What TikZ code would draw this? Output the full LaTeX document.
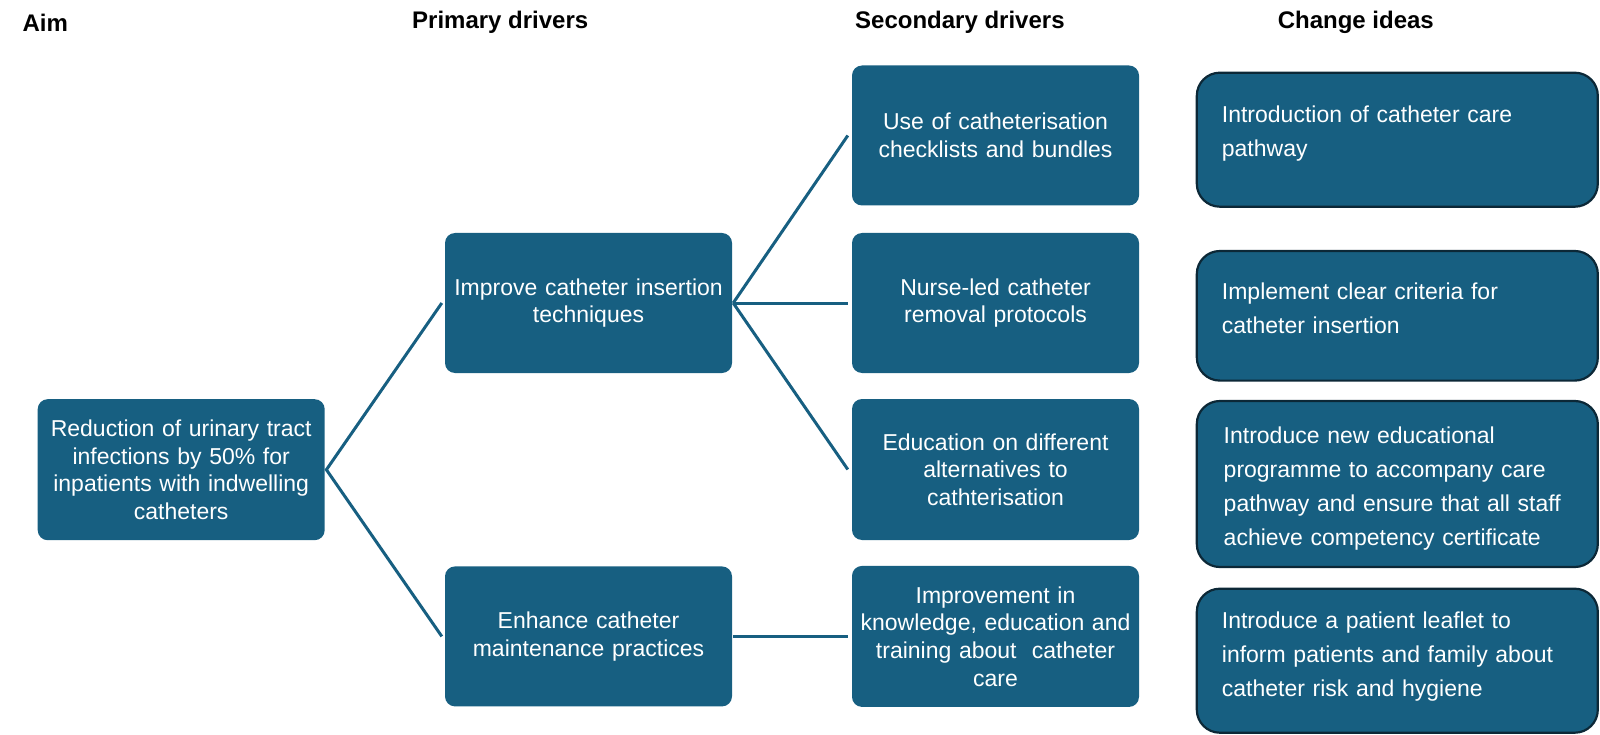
\documentclass[tikz,border=0pt]{standalone}
\usepackage{fontspec}
\setmainfont{Liberation Sans}
\definecolor{boxblue}{RGB}{23,95,129}
\definecolor{boxedge}{RGB}{12,40,55}
\begin{document}
\begin{tikzpicture}[x=1pt,y=-1pt,
  mid/.style={fill=boxblue,draw=none,rounded corners=10pt,minimum width=287pt,minimum height=140pt,
    text=white,align=center,text width=280pt,inner sep=0pt,font=\fontsize{23}{27.6}\selectfont},
  cibox/.style={fill=boxblue,draw=boxedge,line width=2.2pt,rounded corners=23pt,minimum width=401pt,inner sep=0pt},
  citext/.style={text=white,align=left,anchor=north west,inner sep=0pt,text width=370pt,font=\fontsize{23}{33.8}\selectfont},
  head/.style={font=\fontsize{24}{28}\selectfont\bfseries,inner sep=0pt,anchor=west},
  link/.style={draw=boxblue,line width=3pt}]
\useasboundingbox (0,0) rectangle (1600,735);
% headers
\node[head] (h1) at (22.4,22.4) {Aim};
\node[head] (h2) at (412,22.4) {Primary drivers};
\node[head] (h3) at (855,22.4) {Secondary drivers};
\node[head] (h4) at (1277.6,22.4) {Change ideas};
% aim
\node[mid,minimum height=141pt] (aim) at (181.2,469.7) {Reduction of urinary tract\\infections by 50\% for\\inpatients with indwelling\\catheters};
% primary
\node[mid] (p1) at (588.5,303) {Improve catheter insertion\\techniques};
\node[mid] (p2) at (588.5,636.4) {Enhance catheter\\maintenance practices};
% secondary
\node[mid] (s1) at (995.5,135.5) {Use of catheterisation\\checklists and bundles};
\node[mid] (s2) at (995.5,303) {Nurse-led catheter\\removal protocols};
\node[mid,minimum height=141pt] (s3) at (995.5,469.5) {Education on different\\alternatives to\\cathterisation};
\node[mid,minimum height=141pt] (s4) at (995.5,636.4) {Improvement in\\knowledge, education and\\training about\ \ catheter\\care};
% change ideas
\node[cibox,minimum height=134pt] (c1) at (1397.3,139.7) {};
\node[cibox,minimum height=129.6pt] (c2) at (1397.3,315.8) {};
\node[cibox,minimum height=166pt] (c3) at (1397.3,484) {};
\node[cibox,minimum height=144pt] (c4) at (1397.3,660.7) {};
\node[citext] (c1t) at (1221.7,105.5) {Introduction of catheter care\\pathway};
\node[citext] (c2t) at (1221.7,282.5) {Implement clear criteria for\\catheter insertion};
\node[citext] (c3t) at (1223.5,427) {Introduce new educational\\programme to accompany care\\pathway and ensure that all staff\\achieve competency certificate};
\node[citext] (c4t) at (1221.7,612) {Introduce a patient leaflet to\\inform patients and family about\\catheter risk and hygiene};
% connectors
\coordinate (a1) at ([xshift=1.5pt]aim.east);
\coordinate (p1r) at ([xshift=1pt]p1.east);
\coordinate (p2r) at ([xshift=1pt]p2.east);
\draw[link] ([xshift=-3pt]p1.west) -- (a1) -- ([xshift=-3pt]p2.west);
\draw[link] (p1r) -- ([xshift=-4pt]s1.west);
\draw[link] (p1r) -- ([xshift=-4pt]s2.west);
\draw[link] (p1r) -- ([xshift=-4pt]s3.west);
\draw[link] (p2r) -- ([xshift=-4pt]s4.west);
\end{tikzpicture}
\end{document}
